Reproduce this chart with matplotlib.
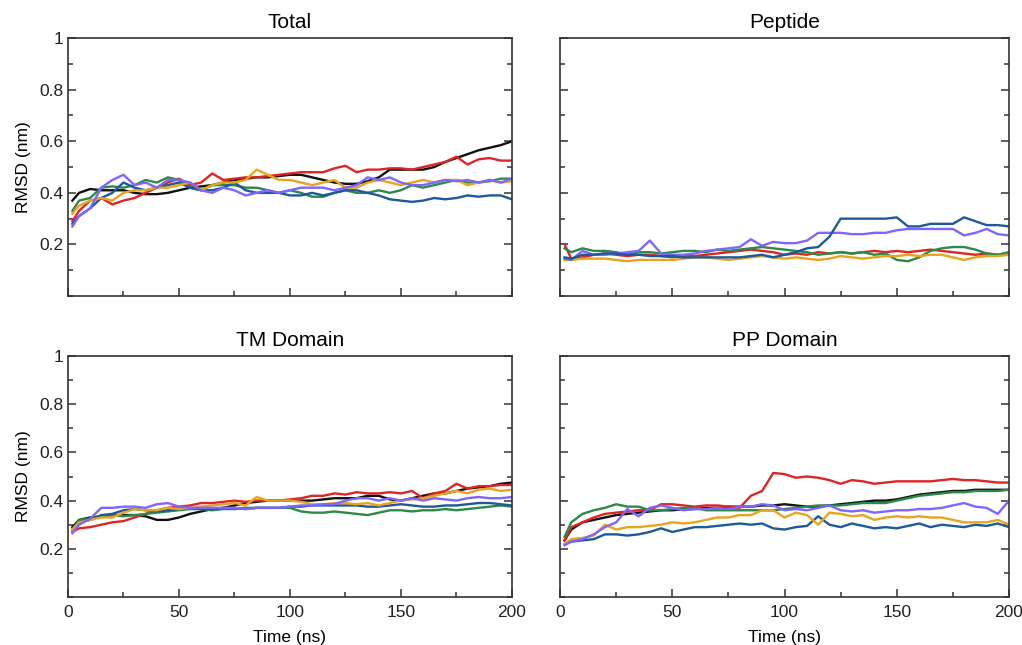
import numpy as np
import matplotlib
matplotlib.use("Agg")
import matplotlib.pyplot as plt
from matplotlib.ticker import MultipleLocator

plt.rcParams["font.family"] = ["Liberation Sans", "DejaVu Sans"]

# Time axis (ns): first frame at 2 ns, then every 5 ns
time_ns = [2] + list(range(5, 201, 5))

# RMSD (nm) per run, one list per panel/colour
total_black = [0.37,
               0.40, 0.415, 0.41, 0.41, 0.41, 0.40, 0.395, 0.395, 0.40, 0.41,
               0.42, 0.425, 0.43, 0.44, 0.45, 0.455, 0.46, 0.46, 0.465, 0.47,
               0.47, 0.46, 0.45, 0.44, 0.435, 0.435, 0.445, 0.46, 0.49, 0.49,
               0.49, 0.49, 0.50, 0.52, 0.535, 0.55, 0.565, 0.575, 0.585, 0.60]
total_red = [0.29,
             0.33, 0.37, 0.38, 0.355, 0.37, 0.38, 0.40, 0.42, 0.44, 0.455,
             0.43, 0.44, 0.475, 0.45, 0.455, 0.46, 0.46, 0.465, 0.47, 0.475,
             0.48, 0.48, 0.48, 0.495, 0.505, 0.48, 0.49, 0.49, 0.495, 0.495,
             0.49, 0.50, 0.51, 0.52, 0.54, 0.51, 0.53, 0.535, 0.525, 0.525]
total_green = [0.33,
               0.37, 0.38, 0.42, 0.425, 0.42, 0.43, 0.45, 0.44, 0.46, 0.45,
               0.42, 0.41, 0.43, 0.43, 0.43, 0.42, 0.42, 0.41, 0.40, 0.41,
               0.40, 0.385, 0.385, 0.40, 0.41, 0.40, 0.40, 0.41, 0.40, 0.41,
               0.43, 0.42, 0.43, 0.44, 0.45, 0.44, 0.44, 0.445, 0.455, 0.455]
total_blue = [0.28,
              0.31, 0.34, 0.38, 0.40, 0.44, 0.42, 0.41, 0.42, 0.43, 0.44,
              0.42, 0.41, 0.41, 0.42, 0.44, 0.41, 0.40, 0.40, 0.40, 0.39,
              0.39, 0.40, 0.39, 0.40, 0.41, 0.41, 0.40, 0.39, 0.375, 0.37,
              0.365, 0.37, 0.38, 0.375, 0.38, 0.39, 0.385, 0.39, 0.39, 0.375]
total_orange = [0.32,
                0.35, 0.37, 0.38, 0.37, 0.40, 0.41, 0.41, 0.42, 0.42, 0.43,
                0.44, 0.41, 0.43, 0.44, 0.44, 0.45, 0.49, 0.47, 0.45, 0.45,
                0.44, 0.43, 0.44, 0.45, 0.42, 0.42, 0.44, 0.45, 0.44, 0.43,
                0.44, 0.45, 0.44, 0.45, 0.45, 0.43, 0.44, 0.45, 0.44, 0.445]
total_purple = [0.27,
                0.31, 0.34, 0.42, 0.45, 0.47, 0.43, 0.44, 0.42, 0.45, 0.45,
                0.44, 0.41, 0.40, 0.42, 0.41, 0.39, 0.40, 0.41, 0.40, 0.41,
                0.42, 0.42, 0.42, 0.41, 0.42, 0.43, 0.46, 0.45, 0.46, 0.44,
                0.43, 0.43, 0.44, 0.45, 0.445, 0.45, 0.44, 0.45, 0.44, 0.455]

pep_red = [0.20,
           0.145, 0.15, 0.16, 0.165, 0.16, 0.155, 0.16, 0.16, 0.155, 0.15,
           0.155, 0.155, 0.16, 0.165, 0.17, 0.175, 0.18, 0.175, 0.17, 0.16,
           0.165, 0.16, 0.17, 0.165, 0.17, 0.165, 0.17, 0.175, 0.17, 0.175,
           0.17, 0.175, 0.18, 0.175, 0.17, 0.165, 0.16, 0.165, 0.16, 0.165]
pep_green = [0.185,
             0.17, 0.185, 0.175, 0.175, 0.17, 0.16, 0.17, 0.17, 0.165, 0.17,
             0.175, 0.175, 0.17, 0.18, 0.175, 0.18, 0.185, 0.19, 0.185, 0.18,
             0.175, 0.17, 0.16, 0.165, 0.17, 0.165, 0.17, 0.16, 0.165, 0.14,
             0.135, 0.15, 0.175, 0.185, 0.19, 0.19, 0.18, 0.165, 0.16, 0.17]
pep_blue = [0.15,
            0.145, 0.16, 0.16, 0.165, 0.165, 0.16, 0.16, 0.155, 0.155, 0.155,
            0.15, 0.15, 0.15, 0.15, 0.15, 0.15, 0.155, 0.16, 0.15, 0.16,
            0.17, 0.185, 0.19, 0.23, 0.30, 0.30, 0.30, 0.30, 0.30, 0.305,
            0.27, 0.27, 0.28, 0.28, 0.28, 0.305, 0.29, 0.275, 0.275, 0.27]
pep_orange = [0.14,
              0.14, 0.145, 0.145, 0.145, 0.14, 0.135, 0.14, 0.14, 0.14, 0.14,
              0.145, 0.15, 0.15, 0.145, 0.14, 0.145, 0.15, 0.155, 0.15, 0.145,
              0.15, 0.145, 0.14, 0.145, 0.155, 0.15, 0.145, 0.15, 0.155, 0.155,
              0.16, 0.155, 0.16, 0.16, 0.15, 0.14, 0.15, 0.155, 0.155, 0.16]
pep_purple = [0.145,
              0.14, 0.175, 0.16, 0.16, 0.165, 0.17, 0.175, 0.215, 0.165, 0.16,
              0.16, 0.165, 0.175, 0.18, 0.185, 0.19, 0.22, 0.195, 0.21, 0.205,
              0.205, 0.215, 0.245, 0.245, 0.245, 0.24, 0.24, 0.245, 0.245, 0.255,
              0.26, 0.26, 0.26, 0.26, 0.26, 0.235, 0.245, 0.26, 0.24, 0.235]

tm_black = [0.29,
            0.32, 0.33, 0.335, 0.34, 0.34, 0.34, 0.335, 0.32, 0.32, 0.33,
            0.345, 0.355, 0.365, 0.37, 0.38, 0.39, 0.395, 0.40, 0.40, 0.40,
            0.40, 0.40, 0.405, 0.41, 0.41, 0.41, 0.42, 0.42, 0.405, 0.40,
            0.41, 0.42, 0.43, 0.43, 0.44, 0.45, 0.455, 0.46, 0.47, 0.475]
tm_red = [0.27,
          0.285, 0.29, 0.30, 0.31, 0.315, 0.33, 0.345, 0.36, 0.37, 0.375,
          0.38, 0.39, 0.39, 0.395, 0.40, 0.395, 0.40, 0.40, 0.40, 0.405,
          0.41, 0.42, 0.42, 0.43, 0.425, 0.435, 0.43, 0.43, 0.435, 0.43,
          0.44, 0.41, 0.43, 0.44, 0.47, 0.45, 0.46, 0.46, 0.465, 0.465]
tm_green = [0.28,
            0.32, 0.325, 0.335, 0.34, 0.335, 0.34, 0.345, 0.35, 0.355, 0.36,
            0.365, 0.365, 0.36, 0.365, 0.365, 0.37, 0.37, 0.37, 0.37, 0.37,
            0.355, 0.35, 0.35, 0.355, 0.35, 0.345, 0.34, 0.35, 0.36, 0.36,
            0.355, 0.36, 0.36, 0.365, 0.36, 0.365, 0.37, 0.375, 0.38, 0.375]
tm_blue = [0.28,
           0.31, 0.32, 0.34, 0.345, 0.36, 0.365, 0.36, 0.355, 0.36, 0.365,
           0.37, 0.365, 0.365, 0.37, 0.37, 0.365, 0.37, 0.37, 0.37, 0.375,
           0.375, 0.38, 0.38, 0.38, 0.38, 0.38, 0.375, 0.375, 0.38, 0.385,
           0.38, 0.375, 0.375, 0.38, 0.38, 0.385, 0.39, 0.39, 0.385, 0.38]
tm_orange = [0.28,
             0.31, 0.32, 0.33, 0.33, 0.35, 0.365, 0.36, 0.36, 0.37, 0.365,
             0.37, 0.375, 0.38, 0.385, 0.39, 0.38, 0.415, 0.40, 0.40, 0.40,
             0.395, 0.385, 0.385, 0.39, 0.39, 0.385, 0.39, 0.38, 0.39, 0.40,
             0.405, 0.41, 0.42, 0.43, 0.44, 0.43, 0.445, 0.45, 0.44, 0.445]
tm_purple = [0.265,
             0.30, 0.325, 0.37, 0.37, 0.375, 0.375, 0.37, 0.385, 0.39, 0.375,
             0.37, 0.37, 0.37, 0.37, 0.37, 0.365, 0.37, 0.37, 0.37, 0.375,
             0.38, 0.38, 0.385, 0.385, 0.40, 0.41, 0.41, 0.40, 0.41, 0.40,
             0.41, 0.40, 0.41, 0.405, 0.40, 0.41, 0.415, 0.41, 0.41, 0.415]

pp_black = [0.235,
            0.28, 0.31, 0.32, 0.33, 0.34, 0.345, 0.35, 0.355, 0.36, 0.36,
            0.365, 0.365, 0.37, 0.37, 0.375, 0.375, 0.375, 0.38, 0.38, 0.385,
            0.38, 0.375, 0.375, 0.38, 0.385, 0.39, 0.395, 0.40, 0.40, 0.405,
            0.415, 0.425, 0.43, 0.435, 0.44, 0.44, 0.445, 0.445, 0.445, 0.445]
pp_red = [0.235,
          0.29, 0.31, 0.33, 0.345, 0.35, 0.355, 0.36, 0.36, 0.385, 0.385,
          0.38, 0.375, 0.38, 0.38, 0.375, 0.37, 0.42, 0.44, 0.515, 0.51,
          0.495, 0.50, 0.495, 0.485, 0.47, 0.485, 0.48, 0.47, 0.475, 0.48,
          0.48, 0.48, 0.48, 0.485, 0.49, 0.485, 0.485, 0.48, 0.475, 0.475]
pp_green = [0.25,
            0.31, 0.345, 0.36, 0.37, 0.385, 0.375, 0.375, 0.36, 0.36, 0.365,
            0.37, 0.37, 0.36, 0.36, 0.36, 0.36, 0.36, 0.36, 0.36, 0.365,
            0.37, 0.375, 0.38, 0.38, 0.38, 0.385, 0.39, 0.39, 0.39, 0.40,
            0.41, 0.42, 0.425, 0.43, 0.435, 0.435, 0.44, 0.44, 0.44, 0.445]
pp_blue = [0.22,
           0.23, 0.235, 0.24, 0.26, 0.26, 0.255, 0.26, 0.27, 0.285, 0.27,
           0.28, 0.29, 0.29, 0.295, 0.30, 0.305, 0.30, 0.305, 0.285, 0.28,
           0.29, 0.295, 0.335, 0.30, 0.29, 0.305, 0.295, 0.285, 0.29, 0.285,
           0.295, 0.305, 0.29, 0.30, 0.295, 0.29, 0.30, 0.295, 0.305, 0.29]
pp_orange = [0.22,
             0.24, 0.245, 0.255, 0.30, 0.28, 0.29, 0.29, 0.295, 0.30, 0.31,
             0.305, 0.31, 0.32, 0.33, 0.33, 0.34, 0.34, 0.36, 0.36, 0.33,
             0.35, 0.34, 0.30, 0.35, 0.345, 0.335, 0.34, 0.32, 0.33, 0.335,
             0.33, 0.335, 0.33, 0.33, 0.32, 0.31, 0.31, 0.31, 0.32, 0.30]
pp_purple = [0.215,
             0.23, 0.24, 0.26, 0.29, 0.31, 0.365, 0.335, 0.37, 0.38, 0.37,
             0.36, 0.365, 0.365, 0.37, 0.365, 0.375, 0.375, 0.385, 0.38, 0.36,
             0.365, 0.36, 0.37, 0.38, 0.36, 0.355, 0.36, 0.35, 0.355, 0.36,
             0.36, 0.365, 0.365, 0.37, 0.38, 0.39, 0.375, 0.37, 0.345, 0.40]

colors = {
    "black": "#111111",
    "red": "#e02424",
    "green": "#2b8a47",
    "blue": "#1c5a9c",
    "orange": "#e8a41c",
    "purple": "#8064ff",
}

panels = [
    ("Total", {"black": total_black, "red": total_red, "green": total_green,
               "blue": total_blue, "orange": total_orange, "purple": total_purple}),
    ("Peptide", {"red": pep_red, "green": pep_green, "orange": pep_orange,
                 "purple": pep_purple, "blue": pep_blue}),
    ("TM Domain", {"black": tm_black, "red": tm_red, "green": tm_green,
                   "blue": tm_blue, "orange": tm_orange, "purple": tm_purple}),
    ("PP Domain", {"black": pp_black, "red": pp_red, "green": pp_green,
                   "blue": pp_blue, "orange": pp_orange, "purple": pp_purple}),
]

fig = plt.figure(figsize=(10.22, 6.45), dpi=100)
boxes = [
    [0.0665, 0.541, 0.4344, 0.400],
    [0.548, 0.541, 0.4393, 0.400],
    [0.0665, 0.0744, 0.4344, 0.3736],
    [0.548, 0.0744, 0.4393, 0.3736],
]

for i, ((title, series), box) in enumerate(zip(panels, boxes)):
    ax = fig.add_axes(box)
    for name, vals in series.items():
        ax.plot(time_ns, vals, color=colors[name], lw=1.7)

    ax.set_xlim(0, 200)
    ax.set_ylim(0, 1)
    ax.set_title(title, fontsize=15, pad=7)

    ax.set_xticks([0, 50, 100, 150, 200])
    ax.xaxis.set_minor_locator(MultipleLocator(25))
    ax.set_yticks([0.2, 0.4, 0.6, 0.8, 1.0])
    ax.yaxis.set_minor_locator(MultipleLocator(0.1))
    ax.tick_params(which="both", direction="in", top=False, right=True,
                   colors="#333333", labelcolor="#222222", labelsize=12.5, width=1.1)
    ax.tick_params(which="major", length=6)
    ax.tick_params(which="minor", length=3.5)
    ax.tick_params(axis="x", pad=6)
    for sp in ax.spines.values():
        sp.set_color("#333333")
        sp.set_linewidth(1.2)

    if i % 2 == 0:
        ax.set_yticklabels(["0.2", "0.4", "0.6", "0.8", "1"])
        ax.set_ylabel("RMSD (nm)", fontsize=12.5, labelpad=6)
    else:
        ax.set_yticklabels([])
    if i >= 2:
        ax.set_xticklabels(["0", "50", "100", "150", "200"])
        ax.set_xlabel("Time (ns)", fontsize=12.5, labelpad=7)
    else:
        ax.set_xticklabels([])

fig.savefig("out.png", dpi=100)
